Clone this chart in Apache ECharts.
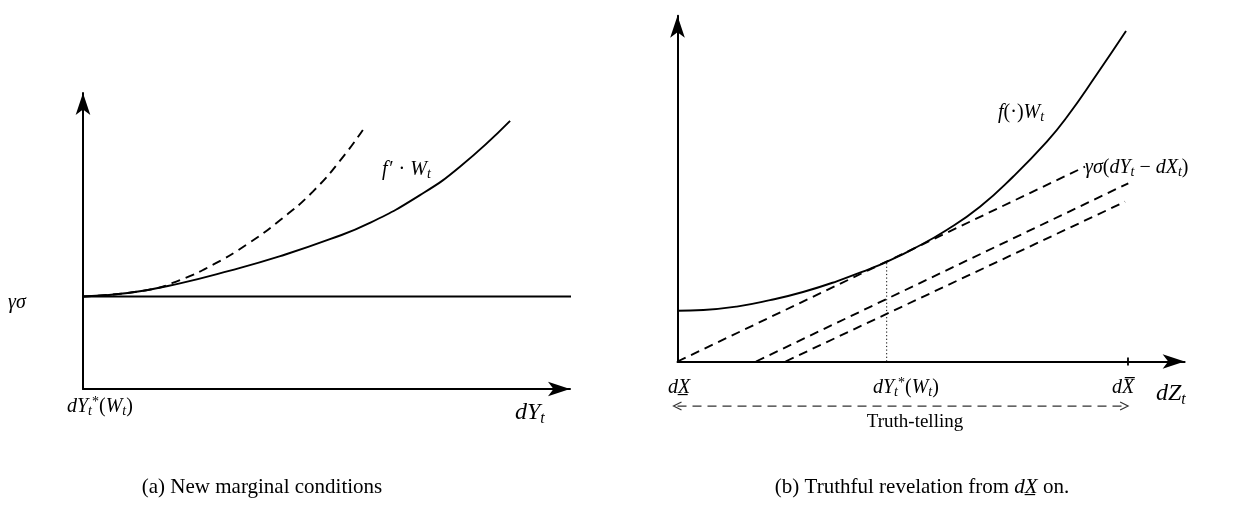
<!DOCTYPE html>
<html><head><meta charset="utf-8">
<script src="https://cdn.jsdelivr.net/npm/echarts@6/dist/echarts.min.js"></script>
<style>html,body{margin:0;padding:0;background:#fff}#c{width:1233px;height:509px}</style>
</head><body><div id="c"></div><script>
// ---------- Panel (a): New marginal conditions ----------
const gammaSigmaLevel = 31.25;
const gammaSigmaX = [0, 101];
const fPrimeX = [0, 9.65, 19.9, 30.2, 40.5, 50.7, 58.9, 69.2, 77.4, 87.7];
const fPrimeY = [31.25, 32.5, 35.7, 40.0, 44.9, 50.6, 56.1, 65.5, 75.1, 90.6];
const newCondX = [0, 13.1, 19.9, 26.7, 33.7, 40.5, 47.2, 53.4, 57.9];
const newCondY = [31.25, 33.4, 36.8, 42.0, 48.9, 57.1, 66.7, 78.4, 88.6];
// ---------- Panel (b): Truthful revelation ----------
const fCurveX = [0, 5, 11.44, 17.87, 24.25, 30.76, 37.2, 40.42, 45.57, 52.02, 58.45, 64.89, 71.34, 75.21, 81.0, 86.67];
const fCurveY = [14.25, 14.45, 15.4, 17.2, 19.5, 22.5, 26.0, 27.95, 31.6, 36.9, 43.4, 51.9, 61.6, 68.5, 80.5, 92.7];
const costStartX = [0, 15.17, 20.87];
const costEndX = [78.74, 87.11, 86.47];
const costEndY = [54.64, 49.99, 44.82];
const dYstarX = 40.42, dYstarY = 27.95;
const dXbarX = 87.05;
const truthX = [0, 86.3], truthLevel = -12.5;
// ---------- Texts ----------
const leftTickLabels = ['{i|dY}{s|t}{p|*}{n|(}{i|W}{s|t}{n|)}'];
const leftYLabel = '{i|γσ}';
const leftXName = '{I|dY}{S|t}';
const fPrimeName = '{i|f}{n|\u200a′ · }{i|W}{s|t}';
const rightTickLabels = ['{i|dX̲}', '{i|dY}{s|t}{p|*}{n|(}{i|W}{s|t}{n|)}', '{i|dX̅}'];
const rightXName = '{I|dZ}{S|t}';
const fCurveName = '{i|f}{n|(·)}{i|W}{s|t}';
const costName = '{i|γσ}{n|(}{i|dY}{s|t}{n| − }{i|dX}{s|t}{n|)}';
const truthName = 'Truth-telling';
const captionA = '{c|(a) New marginal conditions}';
const captionB = '{c|(b) Truthful revelation from }{ci|dX̲}{c| on.}';

const black = '#000';
const MF = 'Liberation Serif';
const rich = {
  i: {fontFamily: MF, fontStyle: 'italic', fontSize: 20, fill: black},
  n: {fontFamily: MF, fontSize: 20, fill: black},
  s: {fontFamily: MF, fontStyle: 'italic', fontSize: 14, padding: [9, 0, 0, 0], fill: black},
  p: {fontFamily: MF, fontSize: 14, padding: [0, 0, 9, 0], fill: black},
  I: {fontFamily: MF, fontStyle: 'italic', fontSize: 24, fill: black},
  S: {fontFamily: MF, fontStyle: 'italic', fontSize: 16, padding: [11, 0, 0, 0], fill: black},
  c: {fontFamily: MF, fontSize: 21, fill: black},
  ci: {fontFamily: MF, fontStyle: 'italic', fontSize: 21, fill: black}
};
const zip = (xs, ys) => xs.map((x, i) => [x, ys[i]]);
function axis(min, max, gi) {
  return {type: 'value', gridIndex: gi, min, max, splitLine: {show: false}, axisTick: {show: false},
    axisLabel: {show: false},
    axisLine: {show: true, onZero: true, symbol: ['none', 'arrow'], symbolSize: [11, 22],
      lineStyle: {color: black, width: 2}}};
}
function line(gi, data, style, extra) {
  return Object.assign({type: 'line', xAxisIndex: gi, yAxisIndex: gi, data, symbol: 'none', silent: true,
    animation: false, clip: false, lineStyle: Object.assign({color: black, width: 1.9}, style)}, extra || {});
}
const dash = [9, 6];
const series = [
  line(0, gammaSigmaX.map(x => [x, gammaSigmaLevel]), {width: 2}),
  line(0, zip(fPrimeX, fPrimeY), {}, {smooth: 0.5}),
  line(0, zip(newCondX, newCondY), {type: dash}, {smooth: 0.5}),
  line(1, zip(fCurveX, fCurveY), {}, {smooth: 0.5}),
  ...costStartX.map((sx, k) => line(1, [[sx, 0], [costEndX[k], costEndY[k]]], {type: dash})),
  line(1, [[dYstarX, 0], [dYstarX, dYstarY]], {type: [1.2, 2.4], width: 1, color: black}),
  line(1, [[dXbarX, -1.1], [dXbarX, 1.1]], {width: 1.8}),
  line(1, [
    {value: [truthX[0], truthLevel], symbol: 'path://M8,0 L0,4 L8,8', symbolSize: [8, 8], symbolRotate: 0},
    {value: [truthX[1], truthLevel], symbol: 'path://M8,0 L0,4 L8,8', symbolSize: [8, 8], symbolRotate: 180}
  ], {type: dash, width: 1.2, color: '#333'},
    {symbol: 'none', showSymbol: true, itemStyle: {color: 'rgba(0,0,0,0)', borderColor: '#333', borderWidth: 1.2}})
];
function txt(x, y, text, align) {
  return {type: 'text', x, y, silent: true, style: {text, rich, align: align || 'left', verticalAlign: 'middle', fill: black}};
}
const graphic = [
  txt(8, 303, leftYLabel),
  txt(67, 407, leftTickLabels[0]),
  txt(515, 413, leftXName),
  txt(382, 170, fPrimeName),
  txt(679, 388, rightTickLabels[0], 'center'),
  txt(873, 388, rightTickLabels[1]),
  txt(1123, 388, rightTickLabels[2], 'center'),
  txt(1156, 394, rightXName),
  txt(998, 113, fCurveName),
  txt(1085, 168, costName),
  {type: 'text', x: 915, y: 422, silent: true, style: {text: truthName, fontFamily: MF, fontSize: 19, fill: black, align: 'center', verticalAlign: 'middle'}},
  txt(262, 487, captionA, 'center'),
  txt(922, 487, captionB, 'center')
];
const chart = echarts.init(document.getElementById('c'));
chart.setOption({
  animation: false,
  backgroundColor: '#fff',
  grid: [
    {left: 83, top: 93, width: 487, height: 296},
    {left: 677.5, top: 361.5 - 97 * 3.565, width: 98 * 5.175, height: 97 * 3.565}
  ],
  xAxis: [axis(0, 100, 0), axis(0, 98, 1)],
  yAxis: [axis(0, 100, 0), axis(0, 97, 1)],
  series,
  graphic
});
</script></body></html>
